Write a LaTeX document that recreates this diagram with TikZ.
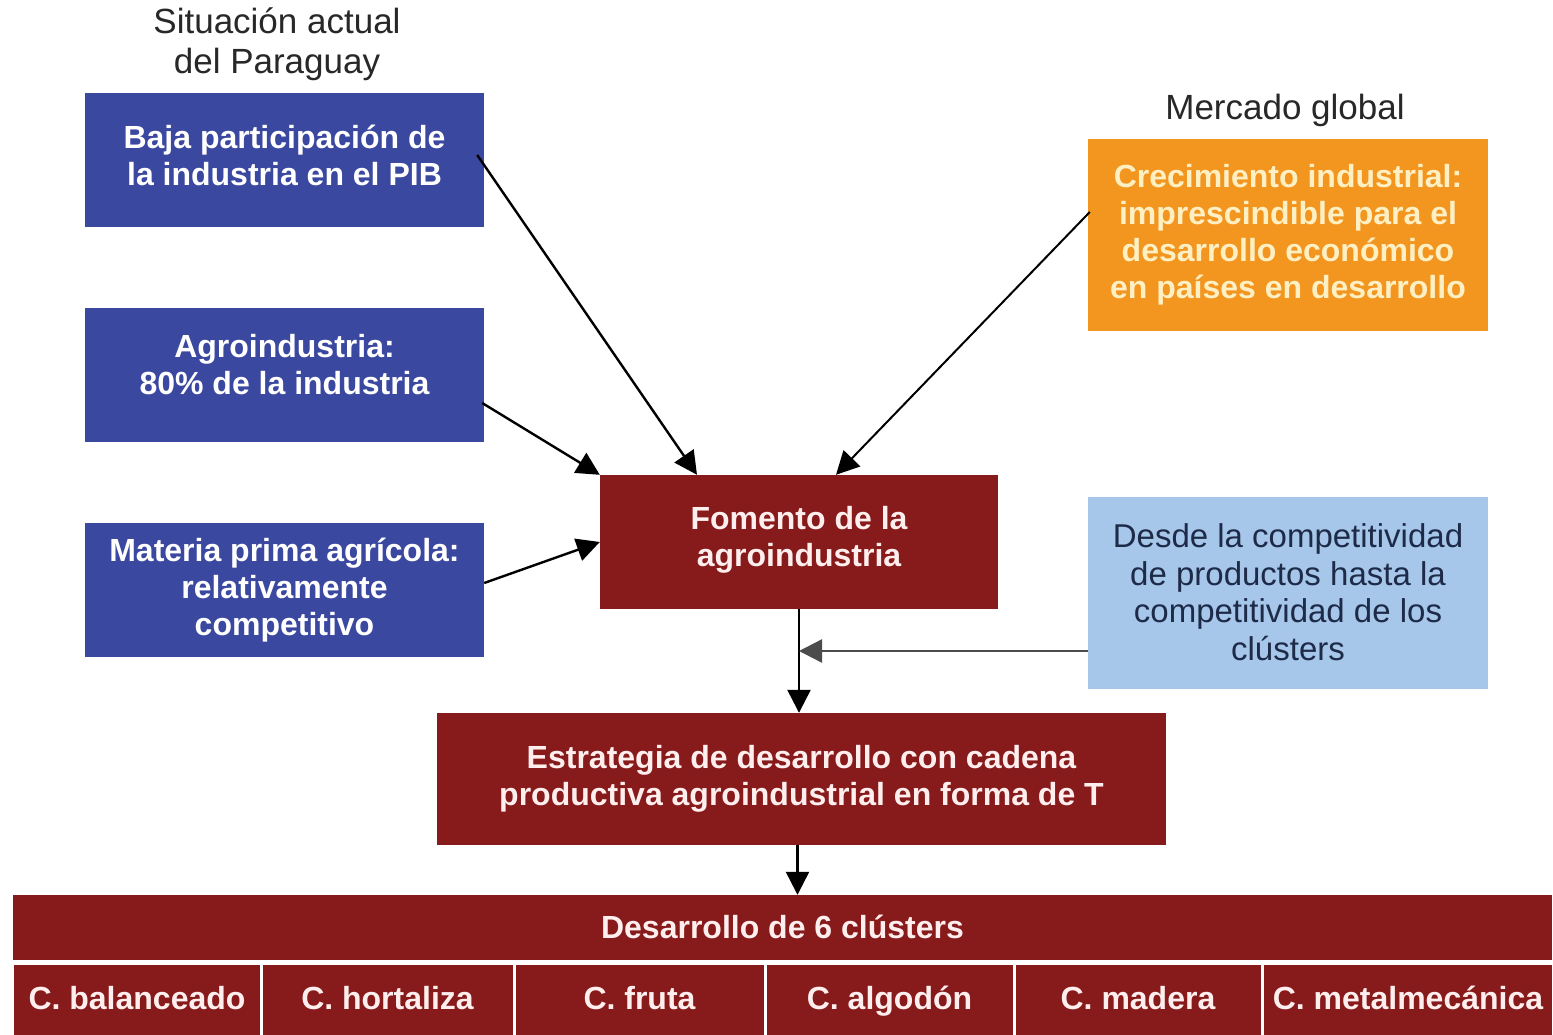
\documentclass[tikz,border=0pt]{standalone}
\usepackage{fontspec}
\setmainfont{Liberation Sans}
\usetikzlibrary{arrows.meta}
\definecolor{bluebox}{RGB}{58,72,160}
\definecolor{orangebox}{RGB}{243,150,32}
\definecolor{redbox}{RGB}{135,26,26}
\definecolor{lightbox}{RGB}{166,198,234}
\definecolor{navytext}{RGB}{30,43,72}
\definecolor{creamtext}{RGB}{255,240,196}
\definecolor{pinktext}{RGB}{255,238,238}
\definecolor{titletext}{RGB}{40,40,40}
\tikzset{
  boxbase/.style={rectangle, inner sep=0pt},
  bluestyle/.style={boxbase, fill=bluebox, minimum width=399pt, minimum height=134pt},
  redstyle/.style={boxbase, fill=redbox},
  orangestyle/.style={boxbase, fill=orangebox, minimum width=400pt, minimum height=192pt},
  lightstyle/.style={boxbase, fill=lightbox, minimum width=400pt, minimum height=192pt},
  boldtext/.style={inner sep=0pt, align=center, font=\fontsize{32}{37}\selectfont\bfseries},
  whitetext/.style={boldtext, text=white},
  pinkstyle/.style={boldtext, text=pinktext},
  creamstyle/.style={boldtext, text=creamtext},
  navystyle/.style={inner sep=0pt, align=center, text=navytext, font=\fontsize{33}{37.5}\selectfont},
  titlestyle/.style={align=center, inner sep=0pt, text=titletext, font=\fontsize{35}{40}\selectfont},
  cellstyle/.style={redstyle, minimum height=70pt},
  celltext/.style={boldtext, text=pinktext, text height=23pt, text depth=7pt},
  arr/.style={-{Triangle[length=23pt,width=23pt]}, line width=2.4pt, black},
}
\begin{document}
\begin{tikzpicture}[x=1pt,y=-1pt]
\useasboundingbox (0,0) rectangle (1553,1035);
\fill[white] (0,0) rectangle (1553,1035);

\node[titlestyle] (t1) at (277,44) {Situación actual\\del Paraguay};
\node[titlestyle] (t2) at (1285,110) {Mercado global};

\node[bluestyle] (b1) at (284.5,160) {};
\node[whitetext] (b1t) at ([yshift=5pt]b1.center) {Baja participación de\\la industria en el PIB};
\node[bluestyle] (b2) at (284.5,375) {};
\node[whitetext] (b2t) at ([yshift=10pt]b2.center) {Agroindustria:\\80\% de la industria};
\node[bluestyle] (b3) at (284.5,590) {};
\node[whitetext] (b3t) at (b3.center) {Materia prima agrícola:\\relativamente\\competitivo};

\node[orangestyle] (org) at (1288,235) {};
\node[creamstyle] (orgt) at (org.center) {Crecimiento industrial:\\imprescindible para el\\desarrollo económico\\en países en desarrollo};
\node[lightstyle] (lb) at (1288,593) {};
\node[navystyle] (lbt) at ([yshift=1pt]lb.center) {Desde la competitividad\\de productos hasta la\\competitividad de los\\clústers};

\node[redstyle, minimum width=398pt, minimum height=134pt] (fom) at (799,542) {};
\node[pinkstyle] (fomt) at ([yshift=2pt]fom.center) {Fomento de la\\agroindustria};
\node[redstyle, minimum width=729pt, minimum height=132pt] (est) at (801.5,779) {};
\node[pinkstyle] (estt) at (est.center) {Estrategia de desarrollo con cadena\\productiva agroindustrial en forma de T};

\node[redstyle, minimum width=1539pt, minimum height=65pt] (hdr) at (782.5,927.5) {};
\node[celltext] (hdrt) at ([yshift=-3pt]hdr.center) {Desarrollo de 6 clústers};

\node[cellstyle, minimum width=246pt] (c1) at (137,1000) {};
\node[cellstyle, minimum width=250pt] (c2) at (387.5,1000) {};
\node[cellstyle, minimum width=248pt] (c3) at (639.5,1000) {};
\node[cellstyle, minimum width=246pt] (c4) at (889.5,1000) {};
\node[cellstyle, minimum width=245pt] (c5) at (1138,1000) {};
\node[cellstyle, minimum width=288pt] (c6) at (1408,1000) {};
\node[celltext] (c1t) at ([yshift=-1pt]c1.center) {C. balanceado};
\node[celltext] (c2t) at ([yshift=-1pt]c2.center) {C. hortaliza};
\node[celltext] (c3t) at ([yshift=-1pt]c3.center) {C. fruta};
\node[celltext] (c4t) at ([yshift=-1pt]c4.center) {C. algodón};
\node[celltext] (c5t) at ([yshift=-1pt]c5.center) {C. madera};
\node[celltext] (c6t) at ([yshift=-1pt]c6.center) {C. metalmecánica};

\draw[arr] ([xshift=-7pt,yshift=5pt]b1.east) -- ([xshift=-102pt]fom.north);
\draw[arr] ([xshift=-2pt,yshift=-28pt]b2.east) -- (fom.north west);
\draw[arr] ([yshift=7pt]b3.east) -- (fom.west);
\draw[arr, line width=2pt] ([xshift=2pt,yshift=23pt]org.west) -- ([xshift=37pt]fom.north);
\draw[arr] (fom.south) -- (fom.south |- est.north);
\draw[arr, draw=black!70] ([yshift=-58pt]lb.west) -- ([yshift=-58pt]lb.west -| fom.south);
\draw[arr] ([xshift=-4pt]est.south) -- ([xshift=-4pt]est.south |- hdr.north);
\end{tikzpicture}
\end{document}
